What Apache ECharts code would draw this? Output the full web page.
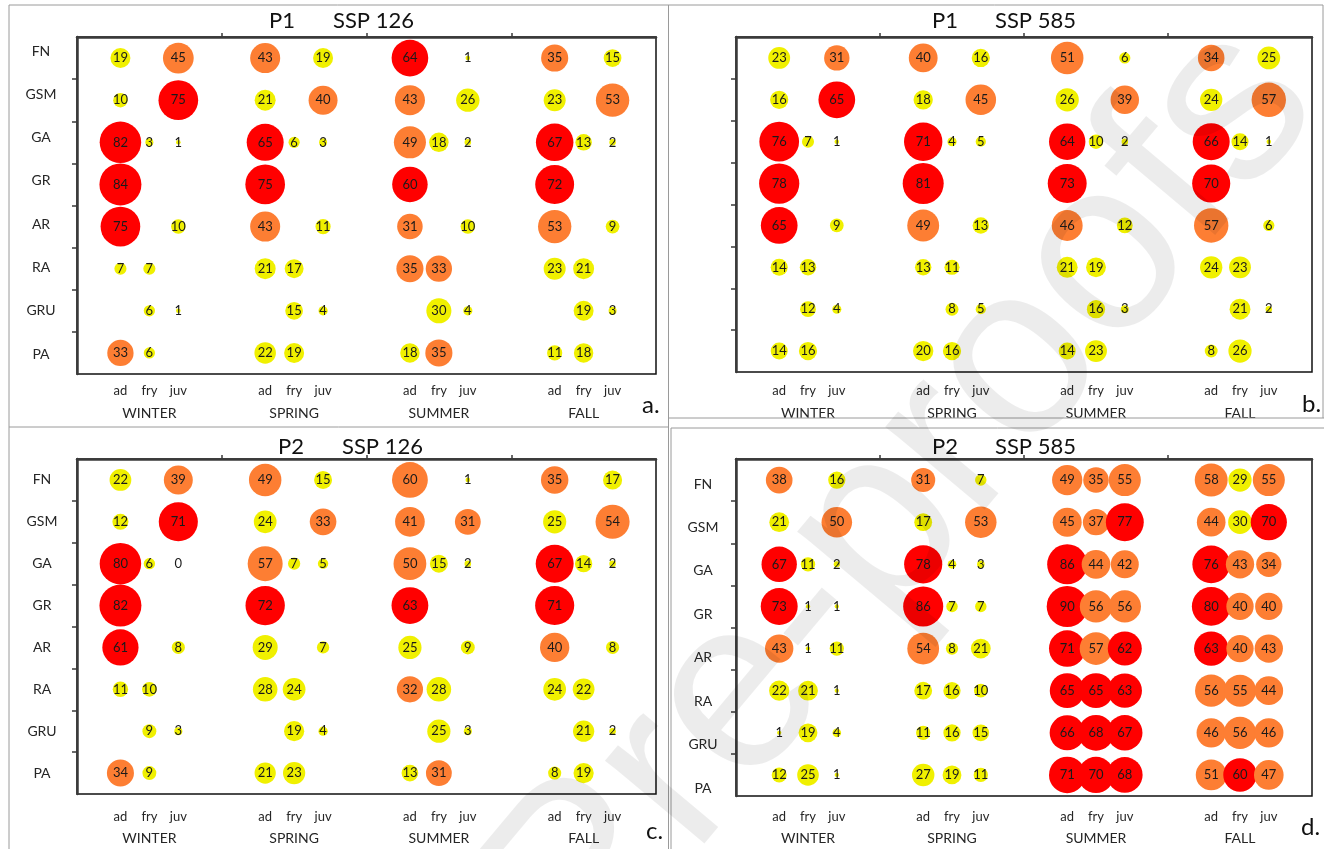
<!DOCTYPE html>
<html>
<head>
<meta charset="utf-8">
<script src="https://cdn.jsdelivr.net/npm/echarts@6/dist/echarts.min.js"></script>
<style>
html,body{margin:0;padding:0;background:#fff;}
#chart{width:1324px;height:849px;}
</style>
</head>
<body>
<div id="chart"></div>
<script>
// ---------------- data ----------------
const rows = ['FN', 'GSM', 'GA', 'GR', 'AR', 'RA', 'GRU', 'PA'];
const stages = ['ad', 'fry', 'juv'];
const seasons = ['WINTER', 'SPRING', 'SUMMER', 'FALL'];
const n = null;
// each row: WINTER ad,fry,juv | SPRING ad,fry,juv | SUMMER ad,fry,juv | FALL ad,fry,juv
const p1_ssp126 = [
  [19, n, 45,  43, n, 19,  64, n, 1,   35, n, 15],
  [10, n, 75,  21, n, 40,  43, n, 26,  23, n, 53],
  [82, 3, 1,   65, 6, 3,   49, 18, 2,  67, 13, 2],
  [84, n, n,   75, n, n,   60, n, n,   72, n, n],
  [75, n, 10,  43, n, 11,  31, n, 10,  53, n, 9],
  [7, 7, n,    21, 17, n,  35, 33, n,  23, 21, n],
  [n, 6, 1,    n, 15, 4,   n, 30, 4,   n, 19, 3],
  [33, 6, n,   22, 19, n,  18, 35, n,  11, 18, n]
];
const p1_ssp585 = [
  [23, n, 31,  40, n, 16,  51, n, 6,   34, n, 25],
  [16, n, 65,  18, n, 45,  26, n, 39,  24, n, 57],
  [76, 7, 1,   71, 4, 5,   64, 10, 2,  66, 14, 1],
  [78, n, n,   81, n, n,   73, n, n,   70, n, n],
  [65, n, 9,   49, n, 13,  46, n, 12,  57, n, 6],
  [14, 13, n,  13, 11, n,  21, 19, n,  24, 23, n],
  [n, 12, 4,   n, 8, 5,    n, 16, 3,   n, 21, 2],
  [14, 16, n,  20, 16, n,  14, 23, n,  8, 26, n]
];
const p2_ssp126 = [
  [22, n, 39,  49, n, 15,  59.6, n, 1, 35, n, 17],
  [12, n, 71,  24, n, 33,  41, n, 31,  25, n, 54],
  [80, 6, 0,   57, 7, 5,   50, 15, 2,  67, 14, 2],
  [82, n, n,   72, n, n,   63, n, n,   71, n, n],
  [61, n, 8,   29, n, 7,   25, n, 9,   40, n, 8],
  [11, 10, n,  28, 24, n,  32, 28, n,  24, 22, n],
  [n, 9, 3,    n, 19, 4,   n, 25, 3,   n, 21, 2],
  [34, 9, n,   21, 23, n,  13, 31, n,  8, 19, n]
];
const p2_ssp585 = [
  [38, n, 16,  31, n, 7,   49, 35, 55,  58, 29, 55],
  [21, n, 50,  17, n, 53,  45, 37, 77,  44, 30, 70],
  [67, 11, 2,  78, 4, 3,   86, 44, 42,  76, 43, 34],
  [73, 1, 1,   86, 7, 7,   90, 56, 56,  80, 40, 40],
  [43, 1, 11,  54, 8, 21,  71, 57, 62,  63, 40, 43],
  [22, 21, 1,  17, 16, 10, 65, 65, 63,  56, 55, 44],
  [1, 19, 4,   11, 16, 15, 66, 68, 67,  46, 56, 46],
  [12, 25, 1,  27, 19, 11, 71, 70, 68,  51, 60, 47]
];
const titles = [['P1', 'SSP 126'], ['P1', 'SSP 585'], ['P2', 'SSP 126'], ['P2', 'SSP 585']];
const tags = ['a.', 'b.', 'c.', 'd.'];

// ---------------- layout ----------------
const FONT = 'Lato, "Open Sans", sans-serif';
const panels = [
  { data: p1_ssp126, grid: { left: 77, top: 37, width: 579, height: 337 }, maxD: 42,
    lab: { min: -0.323, max: 7.46, margin: 36 }, stM: 10, seM: 32,
    tX: [269, 333], tY: 21, tagX: 642, tagY: 405 },
  { data: p1_ssp585, grid: { left: 736, top: 37, width: 576, height: 335 }, maxD: 41,
    lab: null, stM: 12, seM: 34,
    tX: [932, 995], tY: 21, tagX: 1302, tagY: 404 },
  { data: p2_ssp126, grid: { left: 77, top: 459, width: 579, height: 335 }, maxD: 42,
    lab: { min: -0.5, max: 7.5, margin: 35 }, stM: 16, seM: 37,
    tX: [278, 342], tY: 447, tagX: 646, tagY: 831 },
  { data: p2_ssp585, grid: { left: 736, top: 459, width: 576, height: 337 }, maxD: 41,
    lab: { min: -0.576, max: 7.184, margin: 33 }, stM: 14, seM: 35,
    tX: [932, 995], tY: 447, tagX: 1301, tagY: 827 }
];

const stagePos = [];
const seasonPos = [];
seasons.forEach((s, q) => {
  seasonPos.push(q * 5 + 2.5);
  stages.forEach((st, k) => stagePos.push(q * 5 + 1.5 + k));
});

const grids = [], xAxes = [], yAxes = [], series = [], graphics = [];
const AX = '#3a3a3a';

panels.forEach((p, i) => {
  grids.push(Object.assign({ show: true, borderColor: '#111', borderWidth: 1.5, backgroundColor: 'transparent' }, p.grid));
  // main x axis (stage labels)
  xAxes.push({
    type: 'value', gridIndex: i, min: 0, max: 20, position: 'bottom',
    axisLine: { show: true, lineStyle: { color: AX, width: 2.5 } },
    axisTick: { show: true, inside: true, length: 4, customValues: [5, 10, 15], lineStyle: { color: AX, width: 1.5 } },
    splitLine: { show: false },
    axisLabel: {
      show: true, customValues: stagePos, margin: p.stM, fontSize: 13, color: '#262626', fontFamily: FONT,
      formatter: v => stages[Math.round(v - 1.5) % 5]
    }
  });
  // season label axis
  xAxes.push({
    type: 'value', gridIndex: i, min: 0, max: 20, position: 'bottom', offset: 0,
    axisLine: { show: false }, axisTick: { show: false }, splitLine: { show: false },
    axisLabel: {
      show: true, customValues: seasonPos, margin: p.seM, fontSize: 14, color: '#262626', fontFamily: FONT,
      formatter: v => seasons[Math.floor(v / 5)]
    }
  });
  // main y axis
  yAxes.push({
    type: 'value', gridIndex: i, min: 0, max: 8, inverse: true, position: 'left',
    axisLine: { show: true, lineStyle: { color: AX, width: 2.5 } },
    axisTick: { show: true, inside: false, length: 5, customValues: [1, 2, 3, 4, 5, 6, 7], lineStyle: { color: AX, width: 1.5 } },
    splitLine: { show: false },
    axisLabel: { show: false }
  });
  // row label axis
  const lab = p.lab || { min: -0.5, max: 7.5, margin: 35 };
  yAxes.push({
    type: 'value', gridIndex: i, min: lab.min, max: lab.max, inverse: true, position: 'left', offset: 0,
    axisLine: { show: false }, axisTick: { show: false }, splitLine: { show: false },
    axisLabel: {
      show: !!p.lab, customValues: [0, 1, 2, 3, 4, 5, 6, 7], margin: lab.margin, align: 'center',
      fontSize: 14, color: '#262626', fontFamily: FONT,
      formatter: v => rows[Math.round(v)]
    }
  });

  let maxV = 0;
  p.data.forEach(r => r.forEach(v => { if (v != null && v > maxV) maxV = v; }));
  const pts = [];
  stages.forEach((st, k) => {
    seasons.forEach((se, q) => {
      rows.forEach((rn, r) => {
        const v = p.data[r][q * 3 + k];
        if (v != null) pts.push([q * 5 + 1.5 + k, r + 0.5, v]);
      });
    });
  });
  series.push({
    type: 'scatter', xAxisIndex: 2 * i, yAxisIndex: 2 * i, data: pts, silent: true,
    symbolSize: val => Math.max(0.1, p.maxD * Math.sqrt(val[2] / maxV)),
    itemStyle: { opacity: 1 },
    label: {
      show: true, position: 'inside', color: '#1a1a1a', fontSize: 13, fontFamily: FONT,
      formatter: pr => String(Math.round(pr.value[2]))
    },
    emphasis: { disabled: true },
    animation: false
  });

  graphics.push({ type: 'text', x: p.tX[0], y: p.tY, style: { text: titles[i][0], font: '22px ' + FONT, fill: '#111', verticalAlign: 'middle' } });
  graphics.push({ type: 'text', x: p.tX[1], y: p.tY, style: { text: titles[i][1], font: '22px ' + FONT, fill: '#111', verticalAlign: 'middle' } });
  graphics.push({ type: 'text', x: p.tagX, y: p.tagY, style: { text: tags[i], font: '24px ' + FONT, fill: '#111', verticalAlign: 'middle' } });
});

// panel frames
const frame = [
  [9, 5, 1323, 5], [9, 5, 9, 849], [668.5, 5, 668.5, 849], [1323, 5, 1323, 418],
  [9, 427, 668, 427], [668, 418, 1324, 418], [671, 428, 1324, 428], [671, 428, 671, 849]
];
frame.forEach(f => graphics.push({ type: 'line', shape: { x1: f[0], y1: f[1], x2: f[2], y2: f[3] }, style: { stroke: '#9a9a9a', lineWidth: 1 }, z: 50 }));

// watermark
graphics.push({
  type: 'text', x: 1272, y: 62, rotation: 50 * Math.PI / 180, z: 100,
  style: { text: 'Journal Pre-proofs', font: '245px "Liberation Sans", sans-serif', fill: 'rgba(0,0,0,0.075)', align: 'right', verticalAlign: 'middle' }
});

const chart = echarts.init(document.getElementById('chart'), null, { renderer: 'canvas' });
chart.setOption({
  animation: false,
  backgroundColor: '#ffffff',
  grid: grids,
  xAxis: xAxes,
  yAxis: yAxes,
  visualMap: {
    type: 'piecewise', show: false, dimension: 2, seriesIndex: [0, 1, 2, 3],
    pieces: [
      { lt: 30.5, color: '#f0f000' },
      { gte: 30.5, lt: 60, color: '#fd7e33' },
      { gte: 60, color: '#ff0000' }
    ]
  },
  series: series,
  graphic: graphics
});
</script>
</body>
</html>
